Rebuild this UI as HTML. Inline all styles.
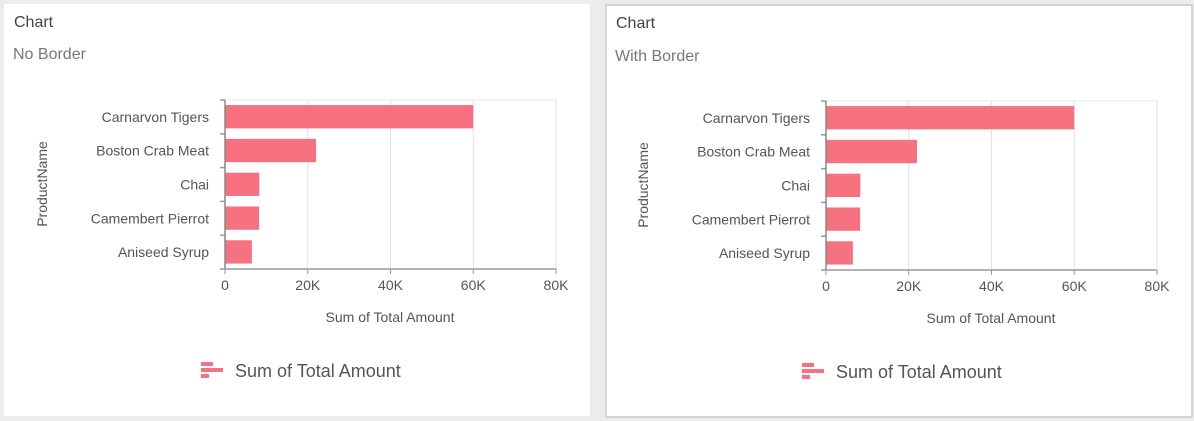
<!DOCTYPE html>
<html><head><meta charset="utf-8">
<style>
body{margin:0;width:1194px;height:421px;background:#ececec;font-family:"Liberation Sans",sans-serif;overflow:hidden;position:relative}
.card{position:absolute;background:#fff;box-sizing:border-box}
.t1{position:absolute;left:10px;font-size:16px;color:#444}
.t2{position:absolute;left:9px;font-size:16px;color:#777}
svg{position:absolute;left:0;top:0}
</style></head><body>
<div class="card" style="left:4px;top:4px;width:586px;height:412px">
 <div class="t1" style="top:10px">Chart</div>
 <div class="t2" style="top:42px">No Border</div>
</div>
<div class="card" style="left:605px;top:4px;width:588px;height:414px;border:2px solid #d4d4d4">
 <div class="t1" style="top:9px;left:9px">Chart</div>
 <div class="t2" style="top:42px;left:8px">With Border</div>
</div>
<svg id="svg" width="1194" height="421"></svg>
<script>
const categories=["Carnarvon Tigers","Boston Crab Meat","Chai","Camembert Pierrot","Aniseed Syrup"];
const values=[60000,22000,8300,8250,6500];
const ticks=[0,20000,40000,60000,80000];
const tickLabels=["0","20K","40K","60K","80K"];
const NS="http://www.w3.org/2000/svg";
const svg=document.getElementById('svg');
function mk(tag,attrs,parent){const e=document.createElementNS(NS,tag);for(const k in attrs)e.setAttribute(k,attrs[k]);(parent||svg).appendChild(e);return e;}
function chart(dx,dy,name){
 const g=mk('g',{transform:`translate(${dx},${dy})`});
 
 
 const x0=225,x1=556,y0=100,y1=269,max=80000;
 const xs=v=>x0+(v/max)*(x1-x0);
 const band=(y1-y0)/categories.length;
 mk('rect',{x:x0,y:y0,width:x1-x0,height:y1-y0,fill:'none',stroke:'#eaeaea'},g);
 ticks.forEach((t,i)=>{
  const x=xs(t);
  const l=mk('line',{x1:x,x2:x,y1:y0,y2:y1,stroke:'#e2e2e2'},g);
  
  
  mk('line',{x1:x,x2:x,y1:y1,y2:y1+5,stroke:'#999'},g);
  const tx=mk('text',{x:x,y:y1+21,'text-anchor':'middle','font-size':14,fill:'#555'},g);
  tx.textContent=tickLabels[i];
  
  
 });
 categories.forEach((c,i)=>{
  const yb=y0+band*i;
  mk('line',{x1:x0-5,x2:x0,y1:yb,y2:yb,stroke:'#999','stroke-width':1.5},g);
  const r=mk('rect',{x:x0,y:yb+band*0.15,width:xs(values[i])-x0,height:band*0.69,fill:'#f67280'},g);
  
  
  const tx=mk('text',{x:x0-16,y:yb+band/2+5,'text-anchor':'end','font-size':14,fill:'#555'},g);
  tx.textContent=c;
  
  
 });
 mk('line',{x1:x0-5,x2:x0,y1:y1,y2:y1,stroke:'#999','stroke-width':1.5},g);
 mk('line',{x1:x0,x2:x0,y1:y0,y2:y1,stroke:'#888','stroke-width':1.5},g);
 mk('line',{x1:x0,x2:x1,y1:y1,y2:y1,stroke:'#999','stroke-width':1.5},g);
 const xt=mk('text',{x:390,y:322,'text-anchor':'middle','font-size':14,fill:'#555'},g);
 xt.textContent='Sum of Total Amount';
 
 
 const yt=mk('text',{x:0,y:0,'text-anchor':'middle','font-size':14,fill:'#555',transform:'translate(47,184) rotate(-90)'},g);
 yt.textContent='ProductName';
 
 
 const lg=mk('g',{},g);
 
 
 mk('rect',{x:201,y:362,width:12,height:4,fill:'#f67280'},lg);
 mk('rect',{x:201,y:368,width:22,height:4,fill:'#f67280'},lg);
 mk('rect',{x:201,y:374,width:8,height:4,fill:'#f67280'},lg);
 const lt=mk('text',{x:235,y:377,'font-size':18,fill:'#555'},lg);
 lt.textContent='Sum of Total Amount';
}
chart(0,0,'chart-no-border');
chart(601,1,'chart-with-border');
</script>
</body></html>
